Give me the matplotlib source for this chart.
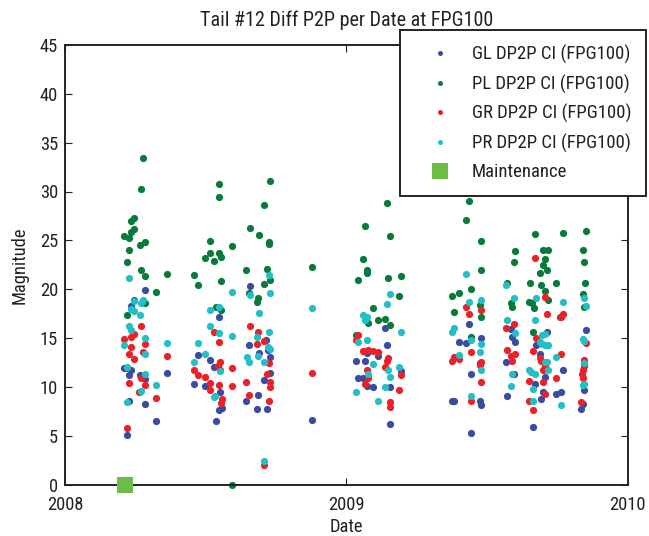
import matplotlib
matplotlib.use("Agg")
import matplotlib.pyplot as plt
from matplotlib import font_manager
from matplotlib.lines import Line2D

names = {f.name for f in font_manager.fontManager.ttflist}
fam = "Liberation Sans"
for cand in ["Liberation Sans Narrow", "Arial Narrow", "Roboto Condensed", "Open Sans Condensed"]:
    if cand in names:
        fam = cand
        break
plt.rcParams['font.family'] = [fam, 'DejaVu Sans']

# ---- data (decimal years offset from 2008, magnitude) ----
gl_x = [0.284,0.246,0.233,0.209,0.236,0.228,0.266,0.284,0.363,0.228,0.284,0.325,0.219,
        0.658,0.548,0.653,0.691,0.730,0.714,0.721,0.474,0.516,0.530,0.460,0.496,0.730,0.709,0.552,0.557,0.548,0.538,0.645,0.687,0.682,0.719,
        1.137,1.145,1.072,1.113,1.035,1.067,1.193,1.040,1.059,1.072,1.096,1.155,0.877,1.155,
        1.438,1.585,1.591,1.601,1.401,1.425,1.480,1.475,1.568,1.596,1.443,1.573,1.382,1.377,1.475,1.480,1.443,
        1.851,1.712,1.675,1.689,1.708,1.772,1.670,1.847,1.700,1.764,1.746,1.693,1.841,1.836,1.665]
gl_y = [19.9,18.9,18.3,11.9,11.7,11.2,11.2,10.8,11.4,8.6,8.2,6.5,5.1,
        20.3,17.2,14.3,13.5,13.1,14.8,13.8,13.3,12.7,12.0,10.3,10.1,11.4,10.7,9.5,7.8,7.6,6.5,8.5,9.2,7.7,7.7,
        16.0,14.3,13.5,13.2,12.6,12.6,11.6,10.9,10.9,10.1,10.0,10.0,6.6,6.2,
        16.4,15.9,15.1,14.6,14.6,14.5,15.0,12.4,12.5,11.3,11.3,9.1,8.5,8.5,8.6,8.1,5.3,
        15.8,15.6,14.3,13.4,11.0,11.7,10.3,9.7,9.5,9.5,9.3,8.8,8.2,7.7,5.9]

pl_x = [0.278,0.270,0.246,0.233,0.246,0.236,0.209,0.228,0.284,0.266,0.228,0.219,0.270,0.284,0.363,0.325,0.284,0.219,
        0.548,0.548,0.728,0.709,0.658,0.691,0.516,0.724,0.724,0.593,0.516,0.548,0.554,0.496,0.530,0.645,0.719,0.460,0.474,0.554,0.730,0.709,0.653,0.686,0.682,0.537,0.554,0.592,
        1.145,1.067,1.155,1.059,0.877,1.072,1.072,1.040,1.150,1.193,1.188,1.096,1.077,1.113,1.137,1.155,1.033,
        1.568,1.438,1.425,1.480,1.601,1.596,1.480,1.443,1.401,1.377,1.573,1.585,1.591,1.475,1.382,1.480,1.443,
        1.672,1.772,1.851,1.700,1.717,1.841,1.708,1.700,1.712,1.689,1.847,1.653,1.693,1.746,1.848,1.708,1.841,1.717,1.651,1.662,1.667,1.847,1.760,1.665]
pl_y = [33.4,30.3,27.3,27.0,26.2,25.9,25.4,25.2,24.8,24.5,24.0,22.8,22.0,21.3,21.6,19.7,18.6,17.4,
        30.8,29.4,31.1,28.6,26.3,25.5,24.9,24.8,24.6,24.4,23.7,23.7,23.3,23.2,22.9,22.0,22.1,21.4,20.4,20.8,20.9,20.5,19.6,19.1,18.7,18.2,17.9,0.0,
        28.8,26.5,25.4,23.1,22.3,22.0,21.7,20.9,21.1,21.3,19.3,18.1,16.5,16.8,16.9,16.3,15.3,
        29.8,29.0,27.1,24.9,23.9,22.8,22.0,20.0,19.6,19.3,20.6,18.6,18.2,18.4,17.7,17.1,15.1,
        25.6,25.8,26.0,24.0,24.0,24.0,23.1,22.5,22.0,21.7,22.8,20.6,20.4,20.6,20.6,19.8,19.5,18.9,18.7,18.6,18.1,18.2,17.2,15.6]

gr_x = [0.270,0.236,0.246,0.209,0.284,0.233,0.228,0.278,0.363,0.246,0.219,0.270,0.284,0.228,0.264,0.325,0.219,
        0.658,0.530,0.548,0.686,0.709,0.682,0.552,0.724,0.593,0.460,0.474,0.496,0.552,0.545,0.719,0.516,0.548,0.593,0.730,0.645,0.516,0.728,0.557,0.553,0.653,0.724,0.709,
        1.040,1.033,1.059,1.077,1.096,1.113,1.150,1.145,1.137,1.072,1.193,0.877,1.077,1.067,1.188,1.155,1.155,
        1.425,1.480,1.438,1.596,1.568,1.573,1.601,1.585,1.443,1.382,1.377,1.401,1.480,1.475,1.591,1.480,1.443,
        1.670,1.708,1.712,1.772,1.764,1.851,1.675,1.665,1.764,1.689,1.693,1.708,1.700,1.847,1.847,1.841,1.838,1.841,1.651,1.700,1.708,1.746,1.651,1.836,1.665]
gr_y = [16.2,15.1,15.4,14.9,14.4,14.1,13.4,13.6,13.2,12.8,11.9,10.9,10.2,10.4,9.5,8.9,5.8,
        16.2,15.6,14.6,15.6,14.7,14.4,12.5,12.4,11.9,11.7,11.2,11.0,11.7,12.1,11.3,10.4,10.2,10.1,10.5,10.5,9.7,10.0,8.8,8.3,9.2,8.5,1.95,
        15.3,14.8,13.7,13.8,13.7,13.6,13.0,12.6,12.0,11.7,11.2,11.4,10.9,10.3,9.7,8.4,7.9,
        18.2,17.9,17.5,16.4,16.0,13.8,13.4,13.2,13.6,13.1,12.6,12.8,12.5,12.2,12.6,10.5,8.6,
        23.2,19.2,17.5,17.5,17.2,14.5,15.0,13.7,13.4,13.0,12.6,12.1,11.7,12.7,12.1,11.7,11.3,10.9,10.6,10.5,9.3,10.9,8.6,8.4,7.6]

pr_x = [0.228,0.246,0.270,0.278,0.236,0.246,0.266,0.228,0.233,0.284,0.363,0.209,0.284,0.219,0.284,0.325,0.270,0.219,
        0.724,0.593,0.658,0.730,0.548,0.516,0.691,0.516,0.548,0.593,0.724,0.474,0.682,0.721,0.730,0.496,0.686,0.460,0.646,0.655,0.709,0.552,0.534,0.528,0.709,
        1.155,1.145,0.877,1.059,1.072,1.067,1.193,1.040,1.072,1.096,1.150,1.188,1.077,1.155,1.137,1.035,1.113,
        1.425,1.568,1.596,1.480,1.438,1.382,1.377,1.573,1.601,1.443,1.480,1.475,1.401,1.480,1.591,1.585,1.443,
        1.675,1.847,1.772,1.851,1.670,1.696,1.708,1.841,1.847,1.689,1.696,1.719,1.708,1.746,1.847,1.712,1.651,1.657,1.670,1.717,1.841,1.847,1.665,1.708,1.665,1.764]
pr_y = [21.1,18.8,18.6,18.9,18.0,17.8,17.4,16.2,15.8,15.0,14.5,14.3,13.4,12.0,11.3,10.2,9.6,8.4,
        21.4,19.7,19.4,19.6,18.2,17.9,17.6,16.2,15.5,15.2,15.6,14.5,15.1,14.1,13.9,13.4,13.2,12.5,13.1,12.5,12.5,11.6,9.1,9.0,2.4,
        19.5,18.5,18.1,17.4,17.1,16.8,15.6,14.6,14.8,12.3,11.7,12.0,11.3,11.0,10.0,9.5,8.6,
        21.6,20.4,19.1,18.9,18.7,16.0,15.6,16.8,15.5,14.8,14.4,13.6,13.3,11.7,11.3,10.1,9.1,
        19.1,19.1,18.7,18.3,16.8,15.3,15.4,14.9,14.7,14.6,14.4,14.3,14.3,13.1,12.4,12.5,11.7,11.5,11.3,11.7,10.2,10.3,9.8,12.5,8.6,8.1]

maint_x = [0.215]
maint_y = [0.0]

base_year = 2008
x_ticks = [2008, 2009, 2010]
y_ticks = [0, 5, 10, 15, 20, 25, 30, 35, 40, 45]

series = [
    ("GL DP2P CI (FPG100)", gl_x, gl_y, "#3a4ba2"),
    ("PL DP2P CI (FPG100)", pl_x, pl_y, "#0a7a3c"),
    ("GR DP2P CI (FPG100)", gr_x, gr_y, "#ec2027"),
    ("PR DP2P CI (FPG100)", pr_x, pr_y, "#22bfc4"),
]
maint_color = "#6cbd45"
txt = '#222222'

fig = plt.figure(figsize=(6.49, 5.36), dpi=100)
ax = fig.add_axes([65/649, 51.5/536, 562.5/649, 439.5/536])

handles = []
for label, xs, ys, col in series:
    ax.plot([base_year + v for v in xs], ys, linestyle='none', marker='o',
            markersize=5.2, color=col, markeredgewidth=0, clip_on=False)
    handles.append(Line2D([], [], linestyle='none', marker='o', markersize=3.6,
                          color=col, markeredgewidth=0, label=label))
ax.plot([base_year + v for v in maint_x], maint_y, linestyle='none', marker='s',
        markersize=11.5, color=maint_color, markeredgewidth=0, clip_on=False, zorder=5)
handles.append(Line2D([], [], linestyle='none', marker='s', markersize=11.5,
                      color=maint_color, markeredgewidth=0, label="Maintenance"))

ax.set_xlim(2008, 2010)
ax.set_ylim(0, 45)
ax.set_xticks(x_ticks)
ax.set_xticklabels([str(t) for t in x_ticks])
ax.set_yticks(y_ticks)
ax.tick_params(direction='in', top=True, right=True, length=5, width=0.8,
               labelsize=13.3, colors=txt)
ax.tick_params(axis='x', pad=8.5)
ax.tick_params(axis='y', pad=5)
for s in ax.spines.values():
    s.set_linewidth(1.4)
    s.set_color(txt)

ax.set_title("Tail #12 Diff P2P per Date at FPG100", fontsize=14.5, color=txt, pad=14)
ax.set_xlabel("Date", fontsize=13.3, color=txt, labelpad=3)
ax.set_ylabel("Magnitude", fontsize=13.3, color=txt, labelpad=8)

leg = fig.legend(handles=handles, loc='upper right', bbox_to_anchor=(646/649, 1 - 30/536),
                 fontsize=13.5, frameon=True, fancybox=False, borderpad=0.78,
                 labelspacing=0.56, handletextpad=0.3, handlelength=2.75, borderaxespad=0)
leg.get_frame().set_edgecolor(txt)
leg.get_frame().set_linewidth(1.4)
leg.get_frame().set_facecolor('white')
leg.get_frame().set_alpha(1)
for t in leg.get_texts():
    t.set_color(txt)

fig.savefig("out.png", dpi=100)
